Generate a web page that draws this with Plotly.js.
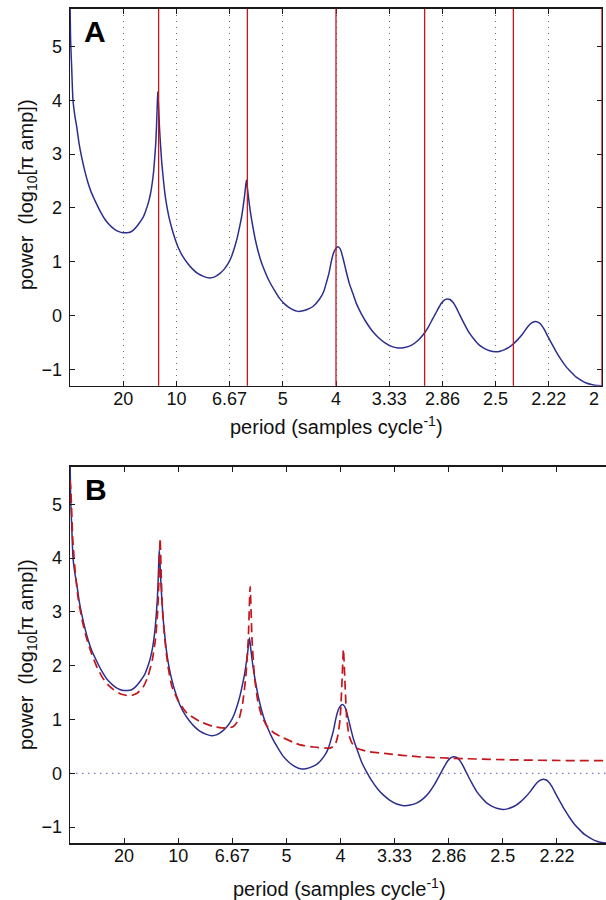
<!DOCTYPE html>
<html>
<head>
<meta charset="utf-8">
<script src="https://cdn.plot.ly/plotly-3.0.1.min.js"></script>
<style>
html, body { margin:0; padding:0; overflow:hidden; background:#fff; }
#chart { width:612px; height:900px; }
</style>
</head>
<body>
<div id="chart"></div>
<script>
// ---- data ----
// frequency (cycles per sample) and power (log10[pi amp]) of the solid (blue) spectrum
const freqBlue = [
  0.0000, 0.0006, 0.0016, 0.0028, 0.0045, 0.0063, 0.0085, 0.0109, 0.0140, 0.0172,
  0.0200, 0.0234, 0.0265, 0.0297, 0.0328, 0.0359, 0.0390, 0.0422, 0.0460, 0.0500,
  0.0535, 0.0563, 0.0595, 0.0625, 0.0655, 0.0688, 0.0712, 0.0734, 0.0755, 0.0772,
  0.0786, 0.0797, 0.0806, 0.0813, 0.0819, 0.0825, 0.0834, 0.0841, 0.0850, 0.0862,
  0.0875, 0.0890, 0.0906, 0.0928, 0.0953, 0.0983, 0.1016, 0.1060, 0.1110, 0.1155,
  0.1203, 0.1255, 0.1313, 0.1360, 0.1406, 0.1448, 0.1484, 0.1518, 0.1547, 0.1572,
  0.1594, 0.1614, 0.1631, 0.1645, 0.1658, 0.1668, 0.1681, 0.1699, 0.1719, 0.1742,
  0.1766, 0.1795, 0.1828, 0.1873, 0.1922, 0.1966, 0.2016, 0.2075, 0.2141, 0.2189,
  0.2234, 0.2283, 0.2346, 0.2385, 0.2408, 0.2435, 0.2455, 0.2476, 0.2495, 0.2518,
  0.2536, 0.2549, 0.2572, 0.2596, 0.2625, 0.2659, 0.2695, 0.2737, 0.2790, 0.2847,
  0.2900, 0.2957, 0.3020, 0.3082, 0.3145, 0.3207, 0.3265, 0.3317, 0.3365, 0.3411,
  0.3452, 0.3490, 0.3518, 0.3543, 0.3570, 0.3599, 0.3630, 0.3662, 0.3708, 0.3756,
  0.3803, 0.3850, 0.3897, 0.3944, 0.4000, 0.4042, 0.4085, 0.4124, 0.4163, 0.4210,
  0.4257, 0.4300, 0.4336, 0.4373, 0.4397, 0.4420, 0.4456, 0.4492, 0.4530, 0.4570,
  0.4617, 0.4664, 0.4711, 0.4758, 0.4805, 0.4852, 0.4892, 0.4931, 0.5000];
const powerBlue = [
  5.90, 5.10, 4.60, 4.00, 3.72, 3.51, 3.20, 2.95, 2.68, 2.45,
  2.29, 2.14, 2.01, 1.89, 1.79, 1.71, 1.65, 1.60, 1.56, 1.54,
  1.54, 1.55, 1.59, 1.65, 1.73, 1.83, 1.95, 2.08, 2.25, 2.45,
  2.68, 2.95, 3.20, 3.51, 3.85, 4.16, 3.82, 3.50, 3.20, 2.85,
  2.58, 2.30, 2.08, 1.85, 1.65, 1.45, 1.27, 1.10, 0.96, 0.86,
  0.78, 0.73, 0.70, 0.72, 0.78, 0.86, 0.96, 1.10, 1.27, 1.45,
  1.65, 1.85, 2.08, 2.30, 2.52, 2.36, 2.14, 1.88, 1.65, 1.41,
  1.21, 1.01, 0.84, 0.64, 0.47, 0.33, 0.22, 0.13, 0.08, 0.09,
  0.12, 0.17, 0.31, 0.45, 0.60, 0.80, 1.00, 1.16, 1.24, 1.28,
  1.25, 1.19, 1.02, 0.82, 0.60, 0.41, 0.21, 0.04, -0.14, -0.30,
  -0.41, -0.50, -0.57, -0.60, -0.59, -0.55, -0.47, -0.36, -0.22, -0.05,
  0.10, 0.23, 0.29, 0.31, 0.30, 0.25, 0.15, 0.02, -0.16, -0.33,
  -0.45, -0.55, -0.61, -0.65, -0.67, -0.66, -0.63, -0.59, -0.53, -0.44,
  -0.33, -0.21, -0.14, -0.11, -0.12, -0.15, -0.25, -0.39, -0.53, -0.67,
  -0.82, -0.95, -1.05, -1.14, -1.20, -1.25, -1.275, -1.29, -1.30];

// dashed (red) spectrum in panel B
const freqRed = [
  0.0000, 0.0007, 0.0026, 0.0050, 0.0078, 0.0115, 0.0155, 0.0200, 0.0250, 0.0300,
  0.0350, 0.0400, 0.0475, 0.0555, 0.0620, 0.0678, 0.0720, 0.0760, 0.0790, 0.0810,
  0.0822, 0.0833, 0.0844, 0.0856, 0.0876, 0.0905, 0.0941, 0.1000, 0.1080, 0.1200,
  0.1325, 0.1450, 0.1510, 0.1560, 0.1595, 0.1625, 0.1648, 0.1665, 0.1682, 0.1705,
  0.1735, 0.1770, 0.1819, 0.1880, 0.1942, 0.2065, 0.2126, 0.2250, 0.2404, 0.2450,
  0.2475, 0.2496, 0.2512, 0.2527, 0.2543, 0.2558, 0.2580, 0.2610, 0.2660, 0.2743,
  0.2928, 0.3210, 0.3540, 0.4000, 0.4465, 0.4943, 0.5000];
const powerRed = [
  5.45, 5.30, 4.34, 3.70, 3.22, 2.82, 2.50, 2.22, 1.97, 1.78,
  1.65, 1.56, 1.47, 1.44, 1.49, 1.61, 1.80, 2.10, 2.50, 3.00,
  3.60, 4.37, 3.60, 3.00, 2.50, 2.00, 1.62, 1.35, 1.12, 0.965,
  0.87, 0.84, 0.87, 1.00, 1.30, 1.80, 2.50, 3.47, 2.50, 1.80,
  1.35, 1.08, 0.88, 0.76, 0.69, 0.575, 0.53, 0.49, 0.47, 0.53,
  0.70, 1.00, 1.61, 2.31, 1.61, 1.00, 0.70, 0.55, 0.46, 0.41,
  0.365, 0.31, 0.28, 0.254, 0.24, 0.235, 0.233];

// harmonic frequencies marked by the red lines in panel A
const harmonicFreqs = [0.0833, 0.1667, 0.2500, 0.3333, 0.4167, 0.5000];

// axis ticks: frequency positions labelled with period
const tickFreqs = [0.05, 0.10, 0.15, 0.20, 0.25, 0.30, 0.35, 0.40, 0.45, 0.50];
const tickPeriods = ['20', '10', '6.67', '5', '4', '3.33', '2.86', '2.5', '2.22', '2'];
const powerTicks = [-1, 0, 1, 2, 3, 4, 5];
const zeroLevel = 0;

// ---- styling ----
const W = 612, H = 900;
const FONT = 'Liberation Sans, Arial, Helvetica, sans-serif';
const BLUE = '#2c2e8e';
const RED = '#c3161d';
const AXC = '#1a1a1a';

function px(x) { return x / W; }
function py(y) { return 1 - y / H; }

// the label at the right border is drawn as an annotation just inside the frame
const lastIdx = tickPeriods.length - 1;
const tickTextAxis = tickPeriods.map((t, i) => i === lastIdx ? '' : t);

const baseX = {
  range: [0, 0.5], tickmode: 'array', tickvals: tickFreqs, ticktext: tickTextAxis,
  ticks: 'inside', ticklen: 5, tickwidth: 1, tickcolor: AXC,
  showline: true, linecolor: AXC, linewidth: 1.3, mirror: 'ticks',
  zeroline: false, fixedrange: true,
  tickfont: { family: FONT, size: 18, color: '#111' }, ticklabelstandoff: -4
};
const baseY = {
  range: [-1.3, 5.7], tickmode: 'array', tickvals: powerTicks,
  ticks: 'inside', ticklen: 5, tickwidth: 1, tickcolor: AXC,
  showline: true, linecolor: AXC, linewidth: 1.3, mirror: 'ticks',
  zeroline: false, showgrid: false, fixedrange: true,
  tickfont: { family: FONT, size: 18, color: '#111' }, ticklabelstandoff: 3
};

const traces = [
  { x: freqBlue, y: powerBlue, xaxis: 'x', yaxis: 'y', mode: 'lines',
    line: { color: BLUE, width: 1.5, shape: 'spline', smoothing: 0.6 }, hoverinfo: 'skip' },
  { x: freqBlue, y: powerBlue, xaxis: 'x2', yaxis: 'y2', mode: 'lines',
    line: { color: BLUE, width: 1.5, shape: 'spline', smoothing: 0.6 }, hoverinfo: 'skip' },
  { x: freqRed, y: powerRed, xaxis: 'x2', yaxis: 'y2', mode: 'lines',
    line: { color: RED, width: 1.7, dash: '9px,5px', shape: 'spline', smoothing: 0.5 }, hoverinfo: 'skip' }
];

const shapes = harmonicFreqs.map(h => ({
  type: 'line', xref: 'x', yref: 'y domain', x0: h, x1: h, y0: 0, y1: 1,
  line: { color: RED, width: 1.3 }, layer: 'above'
}));
shapes.push({
  type: 'line', xref: 'x2 domain', yref: 'y2', x0: 0, x1: 1, y0: zeroLevel, y1: zeroLevel,
  line: { color: '#7676cc', width: 1.4, dash: '1.5px,4.5px' }, layer: 'below'
});

const xTitle = 'period (samples cycle<sup>-1</sup>)';
const yTitle = 'power  (log<sub>10</sub>[π amp])';
const annFont = { family: FONT, size: 20, color: '#111' };
const annotations = [
  { text: '<b>A</b>', xref: 'paper', yref: 'paper', x: px(95), y: py(31), showarrow: false,
    font: { family: FONT, size: 30, color: '#000' }, xanchor: 'center', yanchor: 'middle' },
  { text: '<b>B</b>', xref: 'paper', yref: 'paper', x: px(96), y: py(489), showarrow: false,
    font: { family: FONT, size: 30, color: '#000' }, xanchor: 'center', yanchor: 'middle' },
  { text: tickPeriods[lastIdx], xref: 'paper', yref: 'paper', x: px(594), y: py(399), showarrow: false,
    font: { family: FONT, size: 18, color: '#111' }, xanchor: 'center', yanchor: 'middle' },
  { text: xTitle, xref: 'paper', yref: 'paper', x: px(336), y: py(425), showarrow: false,
    font: annFont, xanchor: 'center', yanchor: 'middle' },
  { text: xTitle, xref: 'paper', yref: 'paper', x: px(339), y: py(887), showarrow: false,
    font: annFont, xanchor: 'center', yanchor: 'middle' },
  { text: yTitle, xref: 'paper', yref: 'paper', x: px(27), y: py(195), showarrow: false,
    font: annFont, textangle: -90, xanchor: 'center', yanchor: 'middle' },
  { text: yTitle, xref: 'paper', yref: 'paper', x: px(27), y: py(655), showarrow: false,
    font: annFont, textangle: -90, xanchor: 'center', yanchor: 'middle' }
];

const layout = {
  width: W, height: H, margin: { l: 0, r: 0, t: 0, b: 0 },
  paper_bgcolor: '#fff', plot_bgcolor: '#fff', showlegend: false,
  font: { family: FONT, color: '#111' },
  xaxis: Object.assign({}, baseX, { domain: [px(70), px(602)], anchor: 'y',
    showgrid: true, gridcolor: '#6e6e6e', gridwidth: 1, griddash: '1px,5px' }),
  yaxis: Object.assign({}, baseY, { domain: [py(385.7), py(8.7)], anchor: 'x' }),
  xaxis2: Object.assign({}, baseX, { domain: [px(70), px(611)], anchor: 'y2', showgrid: false }),
  yaxis2: Object.assign({}, baseY, { domain: [py(843.3), py(466.7)], anchor: 'x2' }),
  shapes: shapes, annotations: annotations
};

Plotly.newPlot('chart', traces, layout, { staticPlot: true, displayModeBar: false });
</script>
</body>
</html>
